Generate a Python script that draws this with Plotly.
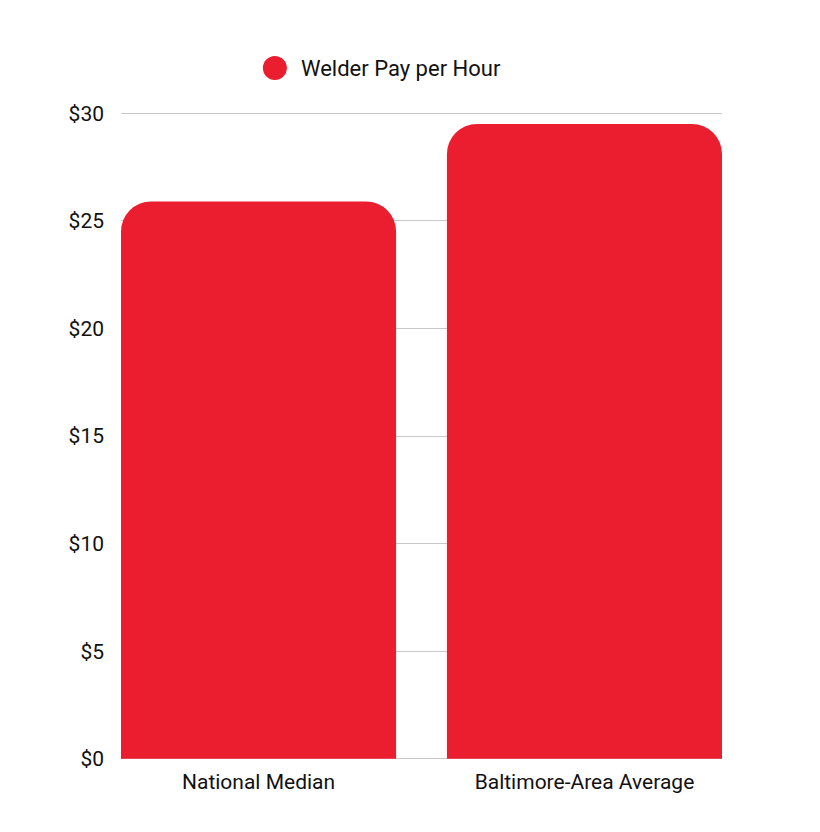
import plotly.graph_objects as go

# welder pay data
categories = ["National Median", "Baltimore-Area Average"]
pay_per_hour = [25.9, 29.5]
series_name = "Welder Pay per Hour"
tick_vals = [0, 5, 10, 15, 20, 25, 30]
tick_text = ["$0", "$5", "$10", "$15", "$20", "$25", "$30"]

red = "#EB1E2F"
bar_w = 0.844

fig = go.Figure()
fig.add_trace(go.Bar(
    x=categories, y=pay_per_hour, name=series_name,
    marker=dict(color=red, line=dict(width=0)),
    showlegend=False,
))

# legend drawn by hand so the dot can be large
fig.add_shape(type="circle", xref="paper", yref="paper",
              xsizemode="pixel", ysizemode="pixel",
              xanchor=0.256, yanchor=1.066, x0=-12, x1=12, y0=-12, y1=12,
              fillcolor=red, line=dict(width=0))
fig.add_annotation(text=series_name, xref="paper", yref="paper",
                   x=0.296, y=1.066, xanchor="left", yanchor="middle",
                   showarrow=False, font=dict(size=22, family="Roboto", color="#111111"))

fig.update_layout(
    width=820, height=832,
    margin=dict(l=113, r=106, t=103, b=79),
    paper_bgcolor="white", plot_bgcolor="white",
    bargap=1 - bar_w, barcornerradius=30,
    font=dict(family="Roboto", color="#111111"),
    showlegend=False,
)
fig.update_yaxes(range=[-0.1, 30.1], tickvals=tick_vals, ticktext=tick_text,
                 showgrid=True, gridcolor="#c8c8c8", gridwidth=1,
                 zeroline=False, showline=False, ticks="",
                 tickfont=dict(size=21), ticklabelstandoff=16)
fig.update_xaxes(range=[-bar_w / 2, 1 + bar_w / 2],
                 showgrid=False, showline=False, ticks="",
                 tickfont=dict(size=21), ticklabelstandoff=6)

fig.write_html("out.html")
